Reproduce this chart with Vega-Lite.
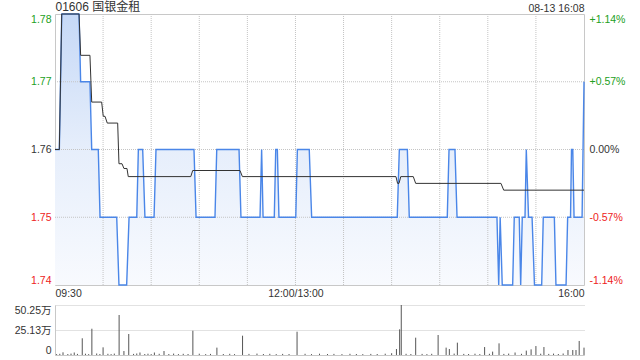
{
  "$schema": "https://vega.github.io/schema/vega-lite/v6.json",
  "width": 529,
  "height": 341,
  "autosize": {"type": "none"},
  "padding": {"left": 55, "top": 14, "right": 56, "bottom": 5},
  "background": "#ffffff",
  "config": {
    "view": {"stroke": null},
    "axis": {
      "labelFont": "Liberation Sans, Noto Sans CJK SC, sans-serif",
      "labelFontSize": 10.5,
      "labelColor": "#333333",
      "domainColor": "#c8c8c8",
      "domainWidth": 1,
      "ticks": false,
      "grid": false
    }
  },
  "datasets": {
    "price": [
      {"t": 0, "p": 1.76}, {"t": 2.7, "p": 1.76}, {"t": 4.2, "p": 1.78}, {"t": 15.0, "p": 1.78},
      {"t": 16.0, "p": 1.77}, {"t": 21.8, "p": 1.77}, {"t": 22.9, "p": 1.76}, {"t": 27.0, "p": 1.76},
      {"t": 28.1, "p": 1.75}, {"t": 38.5, "p": 1.75}, {"t": 39.9, "p": 1.74}, {"t": 44.7, "p": 1.74},
      {"t": 46.2, "p": 1.75}, {"t": 51.0, "p": 1.75}, {"t": 52.0, "p": 1.76}, {"t": 54.7, "p": 1.76},
      {"t": 56.1, "p": 1.75}, {"t": 61.8, "p": 1.75}, {"t": 63.0, "p": 1.76}, {"t": 86.7, "p": 1.76},
      {"t": 88.0, "p": 1.75}, {"t": 99.8, "p": 1.75}, {"t": 100.9, "p": 1.76}, {"t": 114.8, "p": 1.76},
      {"t": 116.0, "p": 1.75}, {"t": 127.9, "p": 1.75}, {"t": 128.9, "p": 1.76}, {"t": 129.8, "p": 1.75},
      {"t": 136.8, "p": 1.75}, {"t": 137.7, "p": 1.76}, {"t": 138.7, "p": 1.76}, {"t": 139.7, "p": 1.75},
      {"t": 150.2, "p": 1.75}, {"t": 151.2, "p": 1.76}, {"t": 158.6, "p": 1.76}, {"t": 160.1, "p": 1.75},
      {"t": 213.5, "p": 1.75}, {"t": 214.8, "p": 1.76}, {"t": 219.8, "p": 1.76}, {"t": 221.0, "p": 1.75},
      {"t": 244.7, "p": 1.75}, {"t": 245.8, "p": 1.76}, {"t": 249.5, "p": 1.76}, {"t": 250.8, "p": 1.75},
      {"t": 275.7, "p": 1.75}, {"t": 276.8, "p": 1.74}, {"t": 277.7, "p": 1.75}, {"t": 279.0, "p": 1.74},
      {"t": 285.5, "p": 1.74}, {"t": 286.5, "p": 1.75}, {"t": 289.6, "p": 1.75}, {"t": 290.5, "p": 1.74},
      {"t": 291.5, "p": 1.75}, {"t": 293.2, "p": 1.75}, {"t": 294.0, "p": 1.76}, {"t": 295.4, "p": 1.75},
      {"t": 297.6, "p": 1.75}, {"t": 299.1, "p": 1.74}, {"t": 303.6, "p": 1.74}, {"t": 304.6, "p": 1.75},
      {"t": 311.5, "p": 1.75}, {"t": 312.5, "p": 1.74}, {"t": 318.8, "p": 1.74}, {"t": 319.8, "p": 1.75},
      {"t": 321.6, "p": 1.75}, {"t": 322.2, "p": 1.76}, {"t": 323.0, "p": 1.76}, {"t": 323.8, "p": 1.75},
      {"t": 328.8, "p": 1.75}, {"t": 330, "p": 1.77}
    ],
    "avg": [
      {"t": 0, "a": 1.76}, {"t": 2.7, "a": 1.76}, {"t": 4.2, "a": 1.78}, {"t": 15.0, "a": 1.78},
      {"t": 16.0, "a": 1.7739}, {"t": 21.8, "a": 1.7739}, {"t": 22.9, "a": 1.767}, {"t": 29.1, "a": 1.767},
      {"t": 30.1, "a": 1.7649}, {"t": 31.2, "a": 1.7649}, {"t": 32.6, "a": 1.7639}, {"t": 39.1, "a": 1.7639},
      {"t": 39.9, "a": 1.7579}, {"t": 41.8, "a": 1.7579}, {"t": 43.0, "a": 1.7572}, {"t": 44.9, "a": 1.7572},
      {"t": 45.7, "a": 1.756}, {"t": 84.7, "a": 1.756}, {"t": 85.9, "a": 1.7569}, {"t": 115.4, "a": 1.7569},
      {"t": 116.9, "a": 1.756}, {"t": 212.7, "a": 1.756}, {"t": 213.7, "a": 1.755}, {"t": 214.6, "a": 1.755},
      {"t": 215.7, "a": 1.756}, {"t": 223.5, "a": 1.756}, {"t": 225.0, "a": 1.755}, {"t": 278.2, "a": 1.755},
      {"t": 279.9, "a": 1.754}, {"t": 330, "a": 1.754}
    ],
    "vol": [
      {"t": 1, "v": 9000}, {"t": 3, "v": 12000}, {"t": 5, "v": 27000}, {"t": 8, "v": 10000},
      {"t": 10, "v": 14000}, {"t": 12, "v": 25000}, {"t": 14, "v": 11000}, {"t": 17, "v": 168000},
      {"t": 19, "v": 13000}, {"t": 21, "v": 9000}, {"t": 23, "v": 264000}, {"t": 26, "v": 15000},
      {"t": 28, "v": 10000}, {"t": 30, "v": 77000}, {"t": 33, "v": 12000}, {"t": 35, "v": 9000},
      {"t": 37, "v": 14000}, {"t": 40, "v": 402000}, {"t": 43, "v": 40000}, {"t": 46, "v": 211000},
      {"t": 49, "v": 11000}, {"t": 51, "v": 15000}, {"t": 53, "v": 25000}, {"t": 56, "v": 10000},
      {"t": 58, "v": 13000}, {"t": 60, "v": 9000}, {"t": 62, "v": 25000}, {"t": 65, "v": 12000},
      {"t": 68, "v": 40000}, {"t": 71, "v": 10000}, {"t": 74, "v": 14000}, {"t": 77, "v": 9000},
      {"t": 80, "v": 12000}, {"t": 83, "v": 10000}, {"t": 86, "v": 244000}, {"t": 90, "v": 13000},
      {"t": 94, "v": 9000}, {"t": 97, "v": 11000}, {"t": 101, "v": 74000}, {"t": 105, "v": 10000},
      {"t": 109, "v": 12000}, {"t": 112, "v": 9000}, {"t": 117, "v": 194000}, {"t": 121, "v": 11000},
      {"t": 126, "v": 14000}, {"t": 130, "v": 10000}, {"t": 134, "v": 12000}, {"t": 138, "v": 9000},
      {"t": 142, "v": 11000}, {"t": 146, "v": 10000}, {"t": 151, "v": 234000}, {"t": 156, "v": 12000},
      {"t": 160, "v": 9000}, {"t": 165, "v": 13000}, {"t": 170, "v": 10000}, {"t": 174, "v": 11000},
      {"t": 179, "v": 9000}, {"t": 184, "v": 12000}, {"t": 188, "v": 10000}, {"t": 192, "v": 9000},
      {"t": 197, "v": 11000}, {"t": 201, "v": 10000}, {"t": 206, "v": 13000}, {"t": 210, "v": 18000},
      {"t": 213, "v": 60000}, {"t": 215, "v": 258000}, {"t": 216, "v": 502500}, {"t": 219, "v": 12000},
      {"t": 222, "v": 10000}, {"t": 225, "v": 174000}, {"t": 229, "v": 11000}, {"t": 232, "v": 9000},
      {"t": 235, "v": 12000}, {"t": 239, "v": 201000}, {"t": 244, "v": 74000}, {"t": 246, "v": 60000},
      {"t": 249, "v": 14000}, {"t": 251, "v": 124000}, {"t": 255, "v": 11000}, {"t": 258, "v": 10000},
      {"t": 262, "v": 13000}, {"t": 265, "v": 9000}, {"t": 268, "v": 80000}, {"t": 271, "v": 12000},
      {"t": 273, "v": 34000}, {"t": 277, "v": 117000}, {"t": 280, "v": 11000}, {"t": 283, "v": 14000},
      {"t": 287, "v": 25000}, {"t": 291, "v": 12000}, {"t": 294, "v": 44000}, {"t": 297, "v": 57000},
      {"t": 300, "v": 90000}, {"t": 303, "v": 13000}, {"t": 305, "v": 80000}, {"t": 308, "v": 11000},
      {"t": 311, "v": 14000}, {"t": 314, "v": 10000}, {"t": 317, "v": 15000}, {"t": 320, "v": 50000},
      {"t": 323, "v": 50000}, {"t": 325, "v": 50000}, {"t": 327, "v": 141000}, {"t": 330, "v": 74000}
    ],
    "vgrid": [
      {"t": 30}, {"t": 60}, {"t": 90}, {"t": 120}, {"t": 150}, {"t": 180},
      {"t": 210}, {"t": 240}, {"t": 270}, {"t": 300}
    ],
    "hgrid": [{"p": 1.75}, {"p": 1.76}, {"p": 1.77}]
  },
  "resolve": {
    "scale": {"y": "independent"},
    "axis": {"x": "independent", "y": "independent"}
  },
  "layer": [
    {
      "data": {"name": "price"},
      "mark": {
        "type": "area",
        "interpolate": "linear",
        "fill": {
          "gradient": "linear",
          "x1": 0, "y1": 0, "x2": 0, "y2": 1,
          "stops": [
            {"offset": 0, "color": "#c6d9f7"},
            {"offset": 0.5, "color": "#e6eefb"},
            {"offset": 1, "color": "#f8fafe"}
          ]
        }
      },
      "encoding": {
        "x": {
          "field": "t", "type": "quantitative", "title": null,
          "scale": {"domain": [0, 330], "nice": false, "zero": false},
          "axis": {
            "orient": "bottom", "offset": -70, "values": [0, 150, 330],
            "labelExpr": "datum.value == 0 ? '09:30' : datum.value == 150 ? '12:00/13:00' : '16:00'",
            "labelFlush": true, "labelPadding": 3, "domain": true
          }
        },
        "y": {
          "field": "p", "type": "quantitative", "title": null,
          "scale": {"domain": [1.74, 1.78], "range": [271, 0], "nice": false, "zero": false},
          "axis": {
            "orient": "left", "values": [1.74, 1.75, 1.76, 1.77, 1.78], "format": ".2f",
            "labelFlush": true, "labelPadding": 4, "domain": true,
            "labelColor": {
              "condition": [
                {"test": "datum.value > 1.765", "value": "#22a022"},
                {"test": "datum.value < 1.755", "value": "#ee2222"}
              ],
              "value": "#333333"
            }
          }
        },
        "y2": {"datum": 1.74}
      }
    },
    {
      "data": {"name": "hgrid"},
      "mark": {"type": "rule", "color": "#c4c4c4", "strokeDash": [1, 1], "strokeWidth": 1},
      "encoding": {
        "x": {"datum": 0, "type": "quantitative", "axis": null},
        "x2": {"datum": 330},
        "y": {
          "field": "p", "type": "quantitative", "axis": null,
          "scale": {"domain": [1.74, 1.78], "range": [271, 0], "nice": false, "zero": false}
        }
      }
    },
    {
      "data": {"name": "vgrid"},
      "mark": {"type": "rule", "color": "#c4c4c4", "strokeDash": [1, 1], "strokeWidth": 1},
      "encoding": {
        "x": {"field": "t", "type": "quantitative", "axis": null},
        "y": {
          "datum": 1.74, "type": "quantitative", "axis": null,
          "scale": {"domain": [1.74, 1.78], "range": [271, 0], "nice": false, "zero": false}
        },
        "y2": {"datum": 1.78}
      }
    },
    {
      "mark": {"type": "text", "fontSize": 11, "color": "#dedede", "font": "Liberation Sans", "baseline": "middle", "align": "center"},
      "encoding": {
        "x": {"datum": 310, "type": "quantitative", "axis": null},
        "y": {
          "datum": 1.7409, "type": "quantitative", "axis": null,
          "scale": {"domain": [1.74, 1.78], "range": [271, 0], "nice": false, "zero": false}
        },
        "text": {"value": "sina.com"}
      }
    },
    {
      "data": {"name": "price"},
      "mark": {"type": "line", "interpolate": "linear", "color": "#4a86e8", "strokeWidth": 1.4},
      "encoding": {
        "x": {
          "field": "t", "type": "quantitative", "title": null,
          "axis": {
            "orient": "top", "values": [0, 330],
            "labelExpr": "datum.value == 0 ? '01606 国银金租' : '08-13 16:08'",
            "labelFlush": true, "labelPadding": 1, "domain": true,
            "labelFontSize": {"condition": {"test": "datum.value == 0", "value": 12}, "value": 10.5}
          }
        },
        "y": {
          "field": "p", "type": "quantitative", "title": null,
          "scale": {"domain": [1.74, 1.78], "range": [271, 0], "nice": false, "zero": false},
          "axis": {
            "orient": "right", "values": [1.74, 1.75, 1.76, 1.77, 1.78],
            "labelExpr": "datum.value > 1.775 ? '+1.14%' : datum.value > 1.765 ? '+0.57%' : datum.value > 1.755 ? '0.00%' : datum.value > 1.745 ? '-0.57%' : '-1.14%'",
            "labelFlush": true, "labelPadding": 5, "domain": true,
            "labelColor": {
              "condition": [
                {"test": "datum.value > 1.765", "value": "#22a022"},
                {"test": "datum.value < 1.755", "value": "#ee2222"}
              ],
              "value": "#333333"
            }
          }
        }
      }
    },
    {
      "data": {"name": "avg"},
      "mark": {"type": "line", "interpolate": "linear", "color": "#333333", "strokeWidth": 1},
      "encoding": {
        "x": {"field": "t", "type": "quantitative", "axis": null},
        "y": {
          "field": "a", "type": "quantitative", "axis": null,
          "scale": {"domain": [1.74, 1.78], "range": [271, 0], "nice": false, "zero": false}
        }
      }
    },
    {
      "data": {"name": "vol"},
      "mark": {"type": "rule", "color": "#555555", "strokeWidth": 1},
      "encoding": {
        "x": {
          "field": "t", "type": "quantitative", "title": null,
          "axis": {"orient": "bottom", "labels": false, "domain": true, "values": [0]}
        },
        "y": {
          "field": "v", "type": "quantitative", "title": null,
          "scale": {"domain": [0, 502500], "range": [341, 291], "nice": false, "zero": true},
          "axis": {
            "orient": "left", "values": [0, 251250, 502500],
            "labelExpr": "datum.value == 0 ? '0' : datum.value > 400000 ? '50.25万' : '25.13万'",
            "labelFlush": true, "labelPadding": 4, "domain": true,
            "grid": true, "gridColor": "#c4c4c4", "gridDash": [1, 1]
          }
        },
        "y2": {"datum": 0}
      }
    },
    {
      "mark": {"type": "rule", "color": "#c8c8c8", "strokeWidth": 1},
      "encoding": {
        "x": {"datum": 330, "type": "quantitative", "axis": null},
        "y": {
          "datum": 0, "type": "quantitative", "axis": null,
          "scale": {"domain": [0, 502500], "range": [341, 291], "nice": false, "zero": true}
        },
        "y2": {"datum": 502500}
      }
    }
  ]
}
